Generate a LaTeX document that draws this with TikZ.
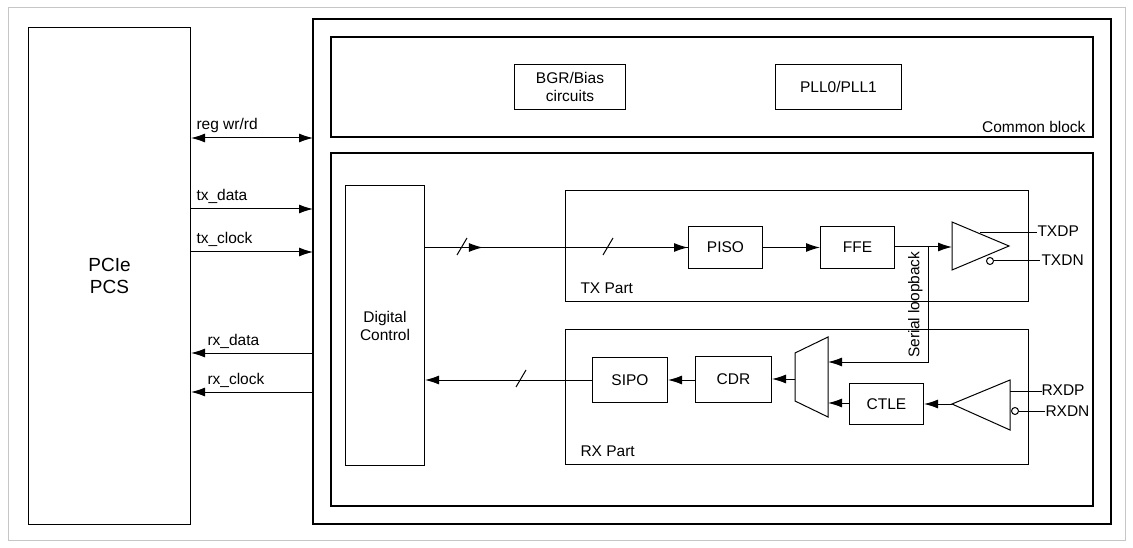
\documentclass[tikz,border=0pt]{standalone}
\usepackage{fontspec}
\setmainfont{Liberation Sans}
\usetikzlibrary{arrows.meta,decorations.markings}
\begin{document}
\begin{tikzpicture}[x=1pt,y=-1pt,line width=1pt,
  box/.style={draw,line width=1pt},
  blk/.style={draw,line width=1pt,align=center,inner sep=0pt},
  arr/.style={-{Latex[length=14pt,width=9pt]},line width=1pt},
  lbl/.style={inner sep=0pt},
  every node/.style={font=\fontsize{15.5}{18}\selectfont}]
\useasboundingbox (0,0) rectangle (1133,548);
\draw[gray!45,line width=0.8pt] (8,7) rectangle (1125,540);
\node[blk,minimum width=162pt,minimum height=497pt,anchor=north west,font=\fontsize{19}{22}\selectfont] (pcs) at (28,27) {PCIe\\PCS};
\draw[line width=1.6pt] (313,19) rectangle (1111,524);
\draw[box,line width=1.5pt] (331,37) rectangle (1093,137);
\node[lbl,anchor=south east] (cb) at (1086,133) {Common block};
\node[blk,minimum width=111pt,minimum height=45pt,anchor=north west] (bgr) at (514,64) {BGR/Bias\\circuits};
\node[blk,minimum width=126pt,minimum height=45pt,anchor=north west] (pll) at (775,64) {PLL0/PLL1};
\draw[box,line width=1.5pt] (331,153) rectangle (1093,506);
\node[blk,minimum width=79pt,minimum height=280pt,anchor=north west] (dc) at (345,185) {Digital\\Control};
\draw[box] (565,191) rectangle (1028,301);
\node[lbl,anchor=base west] (txp) at (580,294) {TX Part};
\draw[box] (565,329) rectangle (1028,464);
\node[lbl,anchor=base west] (rxp) at (580,456) {RX Part};
\node[blk,minimum width=74pt,minimum height=42pt,anchor=north west] (piso) at (688,226) {PISO};
\node[blk,minimum width=74pt,minimum height=42pt,anchor=north west] (ffe) at (820,226) {FFE};
\node[blk,minimum width=74pt,minimum height=41pt,anchor=north west] (ctle) at (849,383) {CTLE};
\node[blk,minimum width=76pt,minimum height=46pt,anchor=north west] (cdr) at (695,356) {CDR};
\node[blk,minimum width=75pt,minimum height=45pt,anchor=north west] (sipo) at (592,357) {SIPO};
% TX buffer
\draw (952,222) -- (1009,246) -- (952,270) -- cycle;
\coordinate (txin) at (952,247);
\draw (980,233) -- (1037,233);
\draw (990,261) circle (3.5pt);
\draw (993.5,261) -- (1040,261);
\node[lbl,anchor=west] (txdp) at (1037,231) {TXDP};
\node[lbl,anchor=west] (txdn) at (1041,260) {TXDN};
% RX buffer
\draw (1010,380) -- (952,404) -- (1010,430) -- cycle;
\coordinate (rxout) at (952,404);
\draw (1010,391) -- (1042,391);
\draw (1015,411) circle (3.5pt);
\draw (1018.5,411) -- (1045,411);
\node[lbl,anchor=west] (rxdp) at (1041,390) {RXDP};
\node[lbl,anchor=west] (rxdn) at (1045,411) {RXDN};
% mux
\draw (795,353) -- (828,337) -- (828,417) -- (795,401) -- cycle;
\coordinate (muxo) at (795,379);
\coordinate (muxa) at (828,362);
\coordinate (muxb) at (828,403);
% connections
\draw[arr] (ffe.east |- txin) -- (txin);
\draw[arr] (928,247) -- (928,362) -- (muxa);
\node[lbl,rotate=90,anchor=south west] (sl) at (923,358) {Serial loopback};
\draw[arr] (rxout) -- (ctle.east |- rxout);
\draw[arr] (ctle.west |- muxb) -- (muxb);
\draw[arr] (muxo) -- (cdr.east |- muxo);
\draw[arr] (cdr.west |- sipo) -- (sipo.east);
\draw[arr] (sipo.west) -- (dc.east |- sipo);
\draw (516,387) -- (526,370);
\draw[arr] (piso.east) -- (ffe.west);
\draw[postaction={decorate},decoration={markings,mark=at position 0.22 with {\arrow{Latex[length=14pt,width=9pt]}}}] (dc.east |- piso) -- (piso.west);
\draw[arr] (dc.east |- piso) -- (piso.west);
\draw (457,255) -- (467,238);
\draw (603,255) -- (613,238);
% left signals
\draw[{Latex[length=14pt,width=9pt]}-{Latex[length=14pt,width=9pt]}] (pcs.east |- 0,138) -- (313,138);
\node[lbl,anchor=base west] (l1) at (196,130) {reg wr/rd};
\draw[arr] (pcs.east |- 0,209) -- (313,209);
\node[lbl,anchor=base west] (l2) at (196,201) {tx\_data};
\draw[arr] (pcs.east |- 0,252) -- (313,252);
\node[lbl,anchor=base west] (l3) at (196,244) {tx\_clock};
\draw[arr] (313,353) -- (pcs.east |- 0,353);
\node[lbl,anchor=base west] (l4) at (207,345) {rx\_data};
\draw[arr] (313,392) -- (pcs.east |- 0,392);
\node[lbl,anchor=base west] (l5) at (207,384) {rx\_clock};
\end{tikzpicture}
\end{document}
